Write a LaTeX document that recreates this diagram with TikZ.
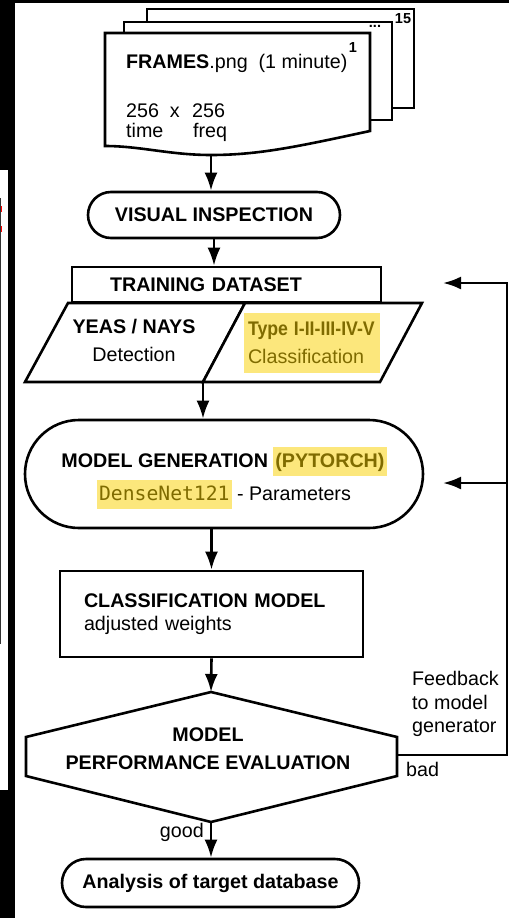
\documentclass[tikz,border=0pt]{standalone}
\usepackage{fontspec}
\setmainfont{Liberation Sans}
\newfontfamily\codefont{DejaVu Sans Mono}
\usepackage{tikz}
\usetikzlibrary{arrows.meta,shapes.misc}
\definecolor{hlvang}{HTML}{FCE77C}
\definecolor{chuvang}{HTML}{7F6B00}
\newcommand{\hlbox}[1]{{\setlength{\fboxsep}{2pt}\colorbox{hlvang}{\rule[-7pt]{0pt}{25pt}\color{chuvang}#1}}}

\begin{document}
\begin{tikzpicture}[x=1pt, y=-1pt, >={Latex[length=18pt,width=13pt]},
	every node/.style={font=\fontsize{19.7}{23.5}\selectfont, inner sep=0pt},
	khung/.style={draw, line width=2.6pt, fill=white},
	tron/.style={khung, rounded rectangle},
	muiten/.style={->, line width=2.6pt},
	nho/.style={font=\bfseries\fontsize{14.5}{16}\selectfont}]
	\useasboundingbox (0,0) rectangle (509,918);
	% Nền và dải đen bên trái
	\fill[white] (0,0) rectangle (509,918);
	\fill[black] (0,0) rectangle (15,918);
	\fill[black] (0,0) rectangle (509,3);
	\fill[white] (0,170) rectangle (8,790);
	\draw[black!80, line width=1.2pt] (0.6,198) -- (0.6,644);
	\draw[red, line width=1pt] (1.5,206) -- (1.5,212) (1.5,226) -- (1.5,232);
	% Chồng ba tờ ảnh
	\draw[khung] (147,9) rectangle (414,108);
	\draw[khung] (124,22) rectangle (392,120);
	\draw[khung] (105,33) -- (370,33) -- (370,131)
		.. controls (300,146) and (260,155) .. (211,155)
		.. controls (170,155) and (140,146) .. (105,146) -- cycle;
	\coordinate (frames) at (211,155);
	\node[nho] (so15) at (403,19) {15};
	\node[nho] (bacham) at (375,26) {...};
	\node[nho] (so1) at (353,48) {1};
	\node[anchor=base west] (tenanh) at (126,68) {\textbf{FRAMES}.png\ \ (1 minute)};
	\node[anchor=base west] (kichthuoc) at (126,117) {\makebox[66pt][l]{256\ \ x}256};
	\node[anchor=base west] (truc) at (126,137) {\makebox[67pt][l]{time}freq};
	% Kiểm tra bằng mắt
	\node[tron, minimum width=252pt, minimum height=46pt] (visual) at (214,215) {\textbf{VISUAL INSPECTION}};
	% Tập dữ liệu huấn luyện
	\node[khung, text width=233pt, inner xsep=38pt, align=left, minimum height=35pt] (training) at (226.5,284.5) {\textbf{TRAINING DATASET}};
	\draw[khung] (25,382) -- (68,303) -- (245,303) -- (203,382) -- cycle;
	\draw[khung] (245,303) -- (422,303) -- (380,382) -- (203,382) -- cycle;
	\coordinate (chia) at (203,382);
	\node[align=center] (phathien) at (134,340) {\textbf{YEAS / NAYS}\\[4.5pt]Detection};
	\node[fill=hlvang, text=chuvang, align=left, text width=128pt, inner xsep=4pt, minimum height=60pt] (phanloai) at (312,343)
		{\scalebox{0.9}[1]{\bfseries Type I-II-III-IV-V}\\[4.5pt]Classification};
	% Sinh mô hình
	\node[tron, minimum width=398pt, minimum height=108pt, align=center] (modelgen) at (224,474)
		{\rule{0pt}{28pt}\textbf{MODEL GENERATION \hlbox{(PYTORCH)}}\\[3pt]\hlbox{\codefont DenseNet121} - Parameters};
	% Mô hình phân loại
	\node[khung, text width=255pt, inner xsep=24pt, align=left, minimum height=86pt] (classmodel) at (211.5,614)
		{\textbf{CLASSIFICATION MODEL}\\adjusted weights};
	% Khối đánh giá
	\coordinate (evaltop) at (211,692);
	\coordinate (evalbot) at (211,822);
	\coordinate (evalright) at (397,755);
	\draw[khung] (26,737) -- (evaltop) -- (397,737) -- (397,776) -- (evalbot) -- (26,776) -- cycle;
	\node[align=center] (danhgia) at (208,749) {\textbf{MODEL}\\[4.5pt]\textbf{PERFORMANCE EVALUATION}};
	% Phân tích cơ sở dữ liệu
	\node[tron, minimum width=297pt, minimum height=48pt] (analysis) at (210.5,883) {\textbf{Analysis of target database}};
	% Các mũi tên chính
	\draw[muiten] (frames) -- (frames |- visual.north);
	\draw[muiten] (visual.south) -- (visual.south |- training.north);
	\draw[muiten] (chia) -- (chia |- modelgen.north);
	\draw[muiten] (classmodel.north |- modelgen.south) -- (classmodel.north);
	\draw[muiten] (classmodel.south) -- (evaltop);
	\draw[muiten] (evalbot) -- (evalbot |- analysis.north);
	% Vòng phản hồi
	\coordinate (loop) at (507,755);
	\coordinate (fbtrain) at (443,283);
	\coordinate (fbgen) at (443,483);
	\draw[muiten] (evalright) -- (loop) |- (fbtrain);
	\draw[muiten] (loop |- fbgen) -- (fbgen);
	\node[anchor=west, align=left] (phanhoi) at (412,704) {Feedback\\to model\\generator};
	\node[anchor=west] (xau) at (406,769) {bad};
	\node[anchor=east] (tot) at (204,832) {good};
\end{tikzpicture}
\end{document}
